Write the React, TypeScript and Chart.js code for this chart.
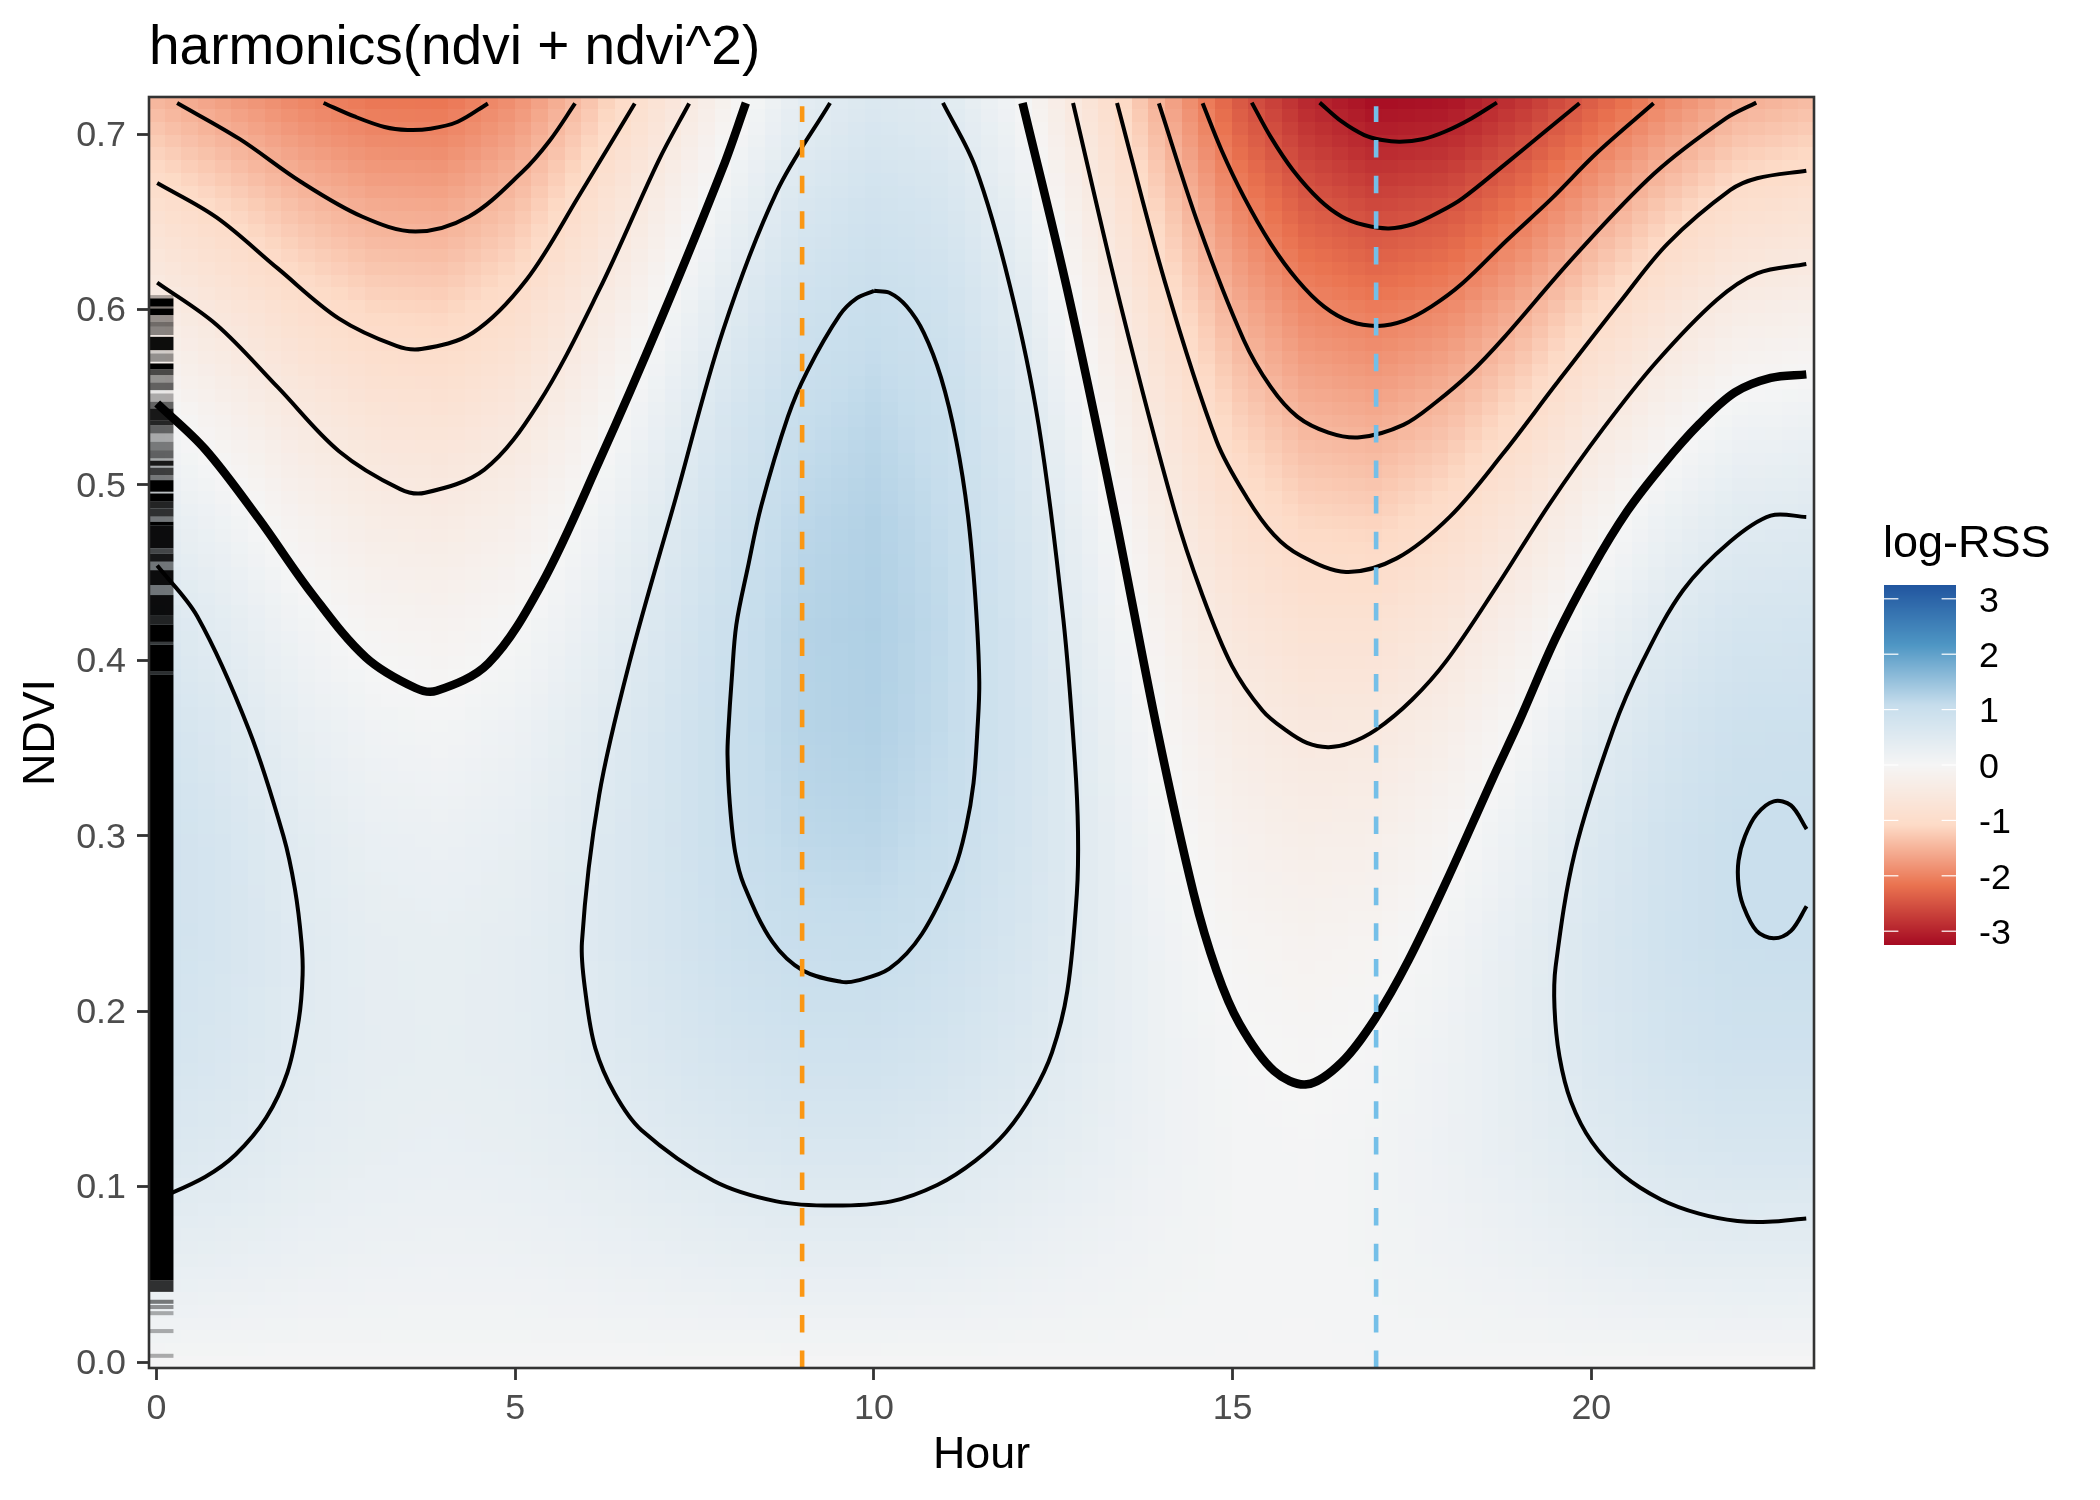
import { useEffect, useRef } from "react";
import { Chart, ScatterController, registerables } from "chart.js";

// ---------- values ----------
const HOURS = [0, 1, 2, 3, 4, 5, 6, 7, 8, 9, 10, 11, 12, 13, 14, 15, 16, 17, 18, 19, 20, 21, 22, 23];
const NDVI_ROWS = [0, 0.06, 0.12, 0.18, 0.24, 0.3, 0.36, 0.42, 0.48, 0.54, 0.6, 0.66, 0.72];

const RSS_H00 = [0.03, 0.35, 0.61, 0.78, 0.87, 0.88, 0.8, 0.63, 0.38, 0.04, -0.38, -0.89, -1.48];
const RSS_H01 = [0.03, 0.3, 0.52, 0.65, 0.71, 0.69, 0.58, 0.4, 0.13, -0.21, -0.64, -1.14, -1.73];
const RSS_H02 = [0.03, 0.23, 0.39, 0.48, 0.5, 0.44, 0.31, 0.11, -0.16, -0.5, -0.92, -1.41, -1.97];
const RSS_H03 = [0.03, 0.19, 0.31, 0.36, 0.35, 0.27, 0.13, -0.08, -0.36, -0.7, -1.11, -1.59, -2.13];
const RSS_H04 = [0.03, 0.17, 0.28, 0.33, 0.31, 0.22, 0.07, -0.14, -0.41, -0.75, -1.15, -1.62, -2.15];
const RSS_H05 = [0.03, 0.18, 0.31, 0.37, 0.37, 0.3, 0.18, -0.01, -0.26, -0.57, -0.94, -1.38, -1.87];
const RSS_H06 = [0.03, 0.22, 0.38, 0.48, 0.52, 0.5, 0.42, 0.27, 0.07, -0.2, -0.52, -0.91, -1.35];
const RSS_H07 = [0.03, 0.27, 0.48, 0.63, 0.72, 0.74, 0.71, 0.62, 0.46, 0.25, -0.02, -0.36, -0.75];
const RSS_H08 = [0.03, 0.32, 0.58, 0.78, 0.92, 1.0, 1.02, 0.98, 0.88, 0.72, 0.49, 0.21, -0.13];
const RSS_H09 = [0.03, 0.35, 0.64, 0.87, 1.04, 1.16, 1.22, 1.23, 1.17, 1.06, 0.89, 0.66, 0.38];
const RSS_H10 = [0.03, 0.35, 0.64, 0.88, 1.06, 1.19, 1.27, 1.29, 1.26, 1.17, 1.03, 0.84, 0.59];
const RSS_H11 = [0.03, 0.31, 0.56, 0.77, 0.93, 1.05, 1.11, 1.13, 1.09, 1.01, 0.88, 0.71, 0.48];
const RSS_H12 = [0.03, 0.24, 0.44, 0.6, 0.71, 0.78, 0.81, 0.79, 0.73, 0.63, 0.49, 0.3, 0.07];
const RSS_H13 = [0.03, 0.17, 0.31, 0.4, 0.44, 0.45, 0.41, 0.33, 0.21, 0.04, -0.16, -0.41, -0.7];
const RSS_H14 = [0.03, 0.1, 0.16, 0.18, 0.16, 0.09, -0.02, -0.17, -0.36, -0.6, -0.88, -1.2, -1.56];
const RSS_H15 = [0.03, 0.05, 0.06, 0.03, -0.06, -0.19, -0.37, -0.59, -0.86, -1.17, -1.53, -1.94, -2.39];
const RSS_H16 = [0.03, 0.04, 0.03, -0.03, -0.14, -0.31, -0.53, -0.8, -1.12, -1.5, -1.93, -2.41, -2.94];
const RSS_H17 = [0.03, 0.07, 0.08, 0.03, -0.09, -0.27, -0.5, -0.8, -1.17, -1.59, -2.07, -2.62, -3.23];
const RSS_H18 = [0.03, 0.13, 0.19, 0.17, 0.09, -0.07, -0.3, -0.6, -0.97, -1.41, -1.93, -2.51, -3.17];
const RSS_H19 = [0.03, 0.2, 0.33, 0.37, 0.34, 0.22, 0.02, -0.25, -0.61, -1.04, -1.56, -2.16, -2.83];
const RSS_H20 = [0.03, 0.29, 0.49, 0.61, 0.63, 0.56, 0.41, 0.16, -0.17, -0.59, -1.1, -1.71, -2.4];
const RSS_H21 = [0.03, 0.36, 0.62, 0.78, 0.85, 0.83, 0.71, 0.5, 0.2, -0.2, -0.7, -1.28, -1.97];
const RSS_H22 = [0.03, 0.39, 0.68, 0.88, 0.98, 0.99, 0.91, 0.73, 0.46, 0.09, -0.37, -0.93, -1.58];
const RSS_H23 = [0.03, 0.38, 0.68, 0.88, 0.99, 1.0, 0.93, 0.76, 0.51, 0.16, -0.28, -0.81, -1.43];
const LOG_RSS = [RSS_H00, RSS_H01, RSS_H02, RSS_H03, RSS_H04, RSS_H05, RSS_H06, RSS_H07, RSS_H08, RSS_H09, RSS_H10, RSS_H11,
  RSS_H12, RSS_H13, RSS_H14, RSS_H15, RSS_H16, RSS_H17, RSS_H18, RSS_H19, RSS_H20, RSS_H21, RSS_H22, RSS_H23];

// contour lines as [hour, ndvi]
const C_M2_A = [[2.33,.7177],[2.76,.71],[3.18,.704],[3.5,.7023],[3.82,.703],[4.2,.707],[4.62,.7174]];
const C_M15_A = [[.289,.7177],[1.158,.6972],[2.012,.6728],[2.865,.653],[3.611,.6444],[4.358,.653],[5.105,.6786],[5.478,.696],[5.835,.7174]];
const C_M1_A = [[.011,.6721],[.838,.6525],[1.691,.6234],[2.545,.5948],[3.345,.5792],[3.691,.5774],[4.411,.5867],[5.158,.6169],[5.905,.6658],[6.667,.7174]];
const C_M05_A = [[.011,.6153],[.838,.5913],[1.691,.5557],[2.545,.5192],[3.398,.4976],[3.745,.4955],[4.571,.5087],[5.318,.5459],[6.171,.6111],[7,.6849],[7.425,.7174]];
const C_0_A = [[.011,.5464],[.678,.5204],[1.425,.4808],[2.171,.4378],[2.918,.4017],[3.611,.3842],[3.905,.3826],[4.625,.3982],[5.371,.4436],[6.171,.5134],[7.025,.5936],[7.896,.6809],[8.216,.7177]];
const C_P05_A = [[.011,.454],[.571,.425],[1.291,.3603],[1.771,.2998],[1.931,.2696],[2.022,.2393],[2.038,.2207],[1.985,.1951],[1.825,.1649],[1.531,.1393],[1.105,.1183],[.678,.1055],[.011,.0927]];
const C_P05_B = [[9.389,.7177],[8.643,.6669],[7.896,.5878],[7.238,.4924],[6.598,.3994],[6.171,.3231],[5.931,.2393],[5.985,.2091],[6.118,.1788],[6.385,.1532],[6.758,.1323],[7.771,.1032],[8.643,.0916],[9.443,.0892],[10.243,.0916],[10.883,.1009],[11.416,.1148],[11.843,.1311],[12.216,.1532],[12.483,.1765],[12.696,.2114],[12.829,.2672],[12.845,.3021],[12.803,.3417],[12.643,.4226],[12.296,.5343],[11.896,.6134],[11.416,.6809],[10.963,.7177]];
const C_P1_A = [[10.003,.6106],[10.216,.6095],[10.456,.6018],[10.696,.5867],[10.936,.5611],[11.149,.525],[11.309,.4831],[11.416,.4343],[11.469,.3877],[11.443,.3603],[11.389,.3301],[11.283,.3045],[11.123,.2812],[10.669,.244],[10.216,.2242],[9.763,.2174],[9.549,.2167],[9.016,.223],[8.589,.2393],[8.189,.2719],[8.067,.2905],[7.992,.3184],[7.96,.3463],[7.972,.3603],[8.02,.39],[8.083,.4203],[8.243,.4529],[8.429,.4878],[8.803,.539],[9.069,.5646],[9.523,.5967],[9.763,.6064],[10.003,.6106]];
const C_0_B = [[12.072,.7177],[12.696,.6111],[13.336,.4878],[13.949,.3603],[14.456,.2672],[14.776,.223],[15.096,.1928],[15.576,.166],[16.035,.1583],[16.515,.1707],[16.995,.1963],[17.449,.2288],[17.982,.2742],[18.622,.3324],[19,.3658],[19.5,.4125],[20,.4516],[20.5,.485],[21,.5115],[21.5,.5345],[22,.5527],[22.5,.561],[22.996,.563]];
const C_M05_B = [[12.776,.7177],[13.443,.6018],[14.189,.4855],[14.563,.4389],[14.989,.397],[15.416,.3714],[15.736,.3603],[16.035,.3529],[16.329,.3505],[16.622,.3526],[16.995,.3603],[17.5,.3775],[17.982,.3998],[18.679,.442],[19.423,.4895],[20.166,.5322],[20.909,.5702],[21.746,.6054],[22.311,.6206],[22.996,.6259]];
const C_M1_B = [[13.389,.7177],[14.056,.6157],[14.776,.525],[15.203,.4924],[15.576,.4715],[15.939,.4599],[16.58,.4504],[17.286,.4581],[18.029,.4819],[18.772,.518],[19.516,.5579],[20.421,.6054],[21.067,.6377],[21.938,.6681],[22.311,.6748],[22.996,.6791]];
const C_M15_B = [[13.972,.7175],[14.532,.6472],[15.155,.5826],[15.528,.556],[15.902,.5389],[16.337,.5298],[16.773,.5271],[17.379,.5342],[17.843,.5474],[18.308,.5636],[18.772,.5835],[19.76,.6301],[20.88,.6776],[21.875,.7089],[22.298,.7179]];
const C_M2_B = [[14.582,.7175],[14.844,.6909],[15.155,.6643],[15.528,.6377],[15.902,.6168],[16.275,.6016],[16.648,.593],[17.022,.5906],[17.395,.5936],[17.768,.6016],[18.204,.6149],[18.826,.6396],[19.449,.6633],[20.071,.689],[20.867,.7175]];
const C_M25 = [[15.267,.7179],[15.528,.6985],[15.839,.6795],[16.213,.6624],[16.524,.6529],[16.835,.6481],[17.177,.6462],[17.519,.6487],[17.893,.6558],[18.204,.6633],[18.826,.6837],[19.324,.7004],[19.834,.7175]];
const C_M3 = [[16.213,.7179],[16.524,.707],[16.835,.6994],[17.084,.6966],[17.333,.6956],[17.644,.697],[17.955,.7013],[18.328,.7089],[18.683,.7179]];
const C_P05_C = [[22.995,.4817],[22.5,.4825],[21.931,.4676],[21.281,.4401],[20.724,.4002],[20.302,.3603],[19.769,.2905],[19.502,.2254],[19.486,.2021],[19.555,.1742],[19.715,.1486],[20.009,.1253],[20.435,.1067],[20.969,.0927],[21.502,.0846],[22.035,.0804],[22.462,.0799],[22.995,.0818]];
const C_P1_B = [[23,.3038],[22.782,.3173],[22.542,.3196],[22.302,.3121],[22.142,.2998],[22.051,.2858],[22.051,.2719],[22.115,.2603],[22.302,.2458],[22.542,.2416],[22.782,.2458],[23,.2598]];
const THIN_CONTOURS = [C_M2_A, C_M15_A, C_M1_A, C_M05_A, C_P05_A, C_P05_B, C_P1_A, C_M05_B, C_M1_B, C_M15_B, C_M2_B, C_M25, C_M3, C_P05_C, C_P1_B];
const BOLD_CONTOURS = [C_0_A, C_0_B];

// reference lines: hour, and the ndvi span of the dashes (bottom to top)
const MORNING_HOUR = 9;
const EVENING_HOUR = 17;
const VLINE_SPAN = [-0.0034, 0.7158];

// rug bands along hour 0: [upper ndvi, lower ndvi, darkness]
const RUG_BANDS = [
  [.6082,.6063,.3],[.6063,.6016,1],[.6016,.6006,.5],[.6006,.5968,1],[.5968,.593,.4],[.593,.5901,.55],[.5901,.5854,.45],
  [.5844,.5768,.95],[.5768,.5749,.15],[.5749,.5702,.4],[.5692,.566,1],[.566,.5626,.7],[.5626,.5584,.4],[.5584,.554,.6],
  [.554,.5521,.05],[.5521,.5474,.3],[.5474,.5436,.6],[.5436,.5369,.9],[.5369,.5341,.85],[.5341,.5293,.6],[.5293,.5246,.3],
  [.5246,.5198,.5],[.5198,.5151,.6],[.5151,.5138,.3],[.5138,.5109,.9],[.5109,.5098,.3],[.5098,.5056,.75],[.5056,.5027,.5],
  [.5027,.4961,1],[.4961,.4951,.2],[.4951,.4904,1],[.4904,.4866,.85],[.4866,.4819,.8],[.4819,.479,.5],[.479,.4767,1],
  [.4767,.4638,.95],[.4638,.4609,.7],[.4609,.4562,.9],[.4562,.4514,.5],[.4514,.4429,.95],[.4429,.4372,.5],[.4372,.4258,.95],
  [.4258,.4205,.85],[.4205,.4105,1],[.4105,.409,.75],[.409,.3935,1],[.3935,.392,.8],[.392,.0467,1],[.0467,.04,.8],
  [.0355,.0332,.5],[.0325,.0302,.4],[.029,.0267,.3],[.0188,.0165,.3],[.0047,.0024,.3],
];
const RUG_END_HOUR = 0.238;

const X_TICKS = [0, 5, 10, 15, 20];
const Y_TICKS = [0, 0.1, 0.2, 0.3, 0.4, 0.5, 0.6, 0.7];
const LEGEND_TICKS = [3, 2, 1, 0, -1, -2, -3];
const COLOR_VALUES = [-3.25, -2.167, -1.083, 0, 1.083, 2.167, 3.25];
const COLOR_STOPS = [[165,10,34],[234,115,80],[253,219,199],[245,245,245],[198,221,236],[78,150,196],[33,85,159]];

// ---------- helpers ----------
function rssColor(v: number) {
  const c = Math.max(COLOR_VALUES[0], Math.min(COLOR_VALUES[6], v));
  let i = 0;
  while (i < 5 && c > COLOR_VALUES[i + 1]) i++;
  const t = (c - COLOR_VALUES[i]) / (COLOR_VALUES[i + 1] - COLOR_VALUES[i]);
  const a = COLOR_STOPS[i], b = COLOR_STOPS[i + 1];
  return `rgb(${Math.round(a[0] + (b[0] - a[0]) * t)},${Math.round(a[1] + (b[1] - a[1]) * t)},${Math.round(a[2] + (b[2] - a[2]) * t)})`;
}

// The raster in the picture has about 100 x 100 tiles. The values are the read nodes above;
// each tile is shaded from the nodes around it, as a display step only.
const TILE_COLUMNS = 100;
const TILE_ROWS = 100;
const NDVI_TOP = 0.7177;

function shade(h: number, n: number) {
  const hi = Math.max(0, Math.min(HOURS.length - 2, Math.floor(h)));
  const step = NDVI_ROWS[1];
  const ni = Math.max(0, Math.min(NDVI_ROWS.length - 2, Math.floor(n / step)));
  const th = h - HOURS[hi];
  const tn = (n - NDVI_ROWS[ni]) / step;
  const a = LOG_RSS[hi][ni] * (1 - tn) + LOG_RSS[hi][ni + 1] * tn;
  const b = LOG_RSS[hi + 1][ni] * (1 - tn) + LOG_RSS[hi + 1][ni + 1] * tn;
  return a * (1 - th) + b * th;
}

class RssHeatController extends ScatterController {
  static id = "rssHeat";
  draw() {
    const { xScale, yScale } = this.getMeta();
    const ctx = this.chart.ctx;
    const dh = 23 / (TILE_COLUMNS - 1);
    const dn = NDVI_TOP / (TILE_ROWS - 1);
    const xEdges: number[] = [];
    const yEdges: number[] = [];
    for (let i = 0; i <= TILE_COLUMNS; i++) xEdges.push(Math.round(xScale.getPixelForValue((i - 0.5) * dh)));
    for (let j = 0; j <= TILE_ROWS; j++) yEdges.push(Math.round(yScale.getPixelForValue((j - 0.5) * dn)));
    ctx.save();
    for (let i = 0; i < TILE_COLUMNS; i++) {
      for (let j = 0; j < TILE_ROWS; j++) {
        ctx.fillStyle = rssColor(shade(i * dh, j * dn));
        ctx.fillRect(xEdges[i], yEdges[j + 1], xEdges[i + 1] - xEdges[i], yEdges[j] - yEdges[j + 1]);
      }
    }
    ctx.restore();
  }
}

class RugController extends ScatterController {
  static id = "rugBands";
  draw() {
    const { xScale, yScale } = this.getMeta();
    const ctx = this.chart.ctx;
    const x0 = xScale.left;
    const x1 = xScale.getPixelForValue(RUG_END_HOUR);
    ctx.save();
    for (const d of this.getDataset().data as any[]) {
      const y0 = yScale.getPixelForValue(d.y);
      const y1 = yScale.getPixelForValue(d.lower);
      ctx.fillStyle = `rgba(0,0,0,${d.dark})`;
      ctx.fillRect(x0, y0, x1 - x0, y1 - y0);
    }
    ctx.restore();
  }
}

Chart.register(...registerables, RssHeatController, RugController);

const FONT = "'Liberation Sans', Arial, sans-serif";

const panelAndLegend = {
  id: "panelAndLegend",
  afterDatasetsDraw(chart: any) {
    const { ctx, chartArea: a } = chart;
    ctx.save();
    ctx.strokeStyle = "#333333";
    ctx.lineWidth = 2.6;
    ctx.strokeRect(a.left, a.top, a.right - a.left, a.bottom - a.top);
    ctx.restore();
  },
  afterDraw(chart: any) {
    const { ctx } = chart;
    const left = 1884, right = 1956, top = 585, bottom = 945;
    const zeroY = 765, perUnit = 55.4;
    ctx.save();
    for (let y = top; y < bottom; y++) {
      ctx.fillStyle = rssColor((zeroY - (y + 0.5)) / perUnit);
      ctx.fillRect(left, y, right - left, 1);
    }
    ctx.textBaseline = "alphabetic";
    ctx.textAlign = "left";
    ctx.fillStyle = "#000000";
    ctx.font = `45px ${FONT}`;
    ctx.fillText("log-RSS", 1883, 557);
    ctx.font = `35.84px ${FONT}`;
    for (const v of LEGEND_TICKS) {
      const y = zeroY - v * perUnit;
      ctx.fillStyle = "#ffffff";
      ctx.fillRect(left, y - 0.6, 14.4, 1.2);
      ctx.fillRect(right - 14.4, y - 0.6, 14.4, 1.2);
      ctx.fillStyle = "#000000";
      ctx.fillText(String(v), 1979, y + 12.8);
    }
    ctx.restore();
  },
};

export default function App() {
  const ref = useRef<HTMLCanvasElement>(null);
  useEffect(() => {
    const toPoints = (pts: number[][]) => pts.map(([x, y]) => ({ x, y }));
    const contour = (pts: number[][], width: number) => ({
      type: "line",
      data: toPoints(pts),
      borderColor: "#000000",
      borderWidth: width,
      borderCapStyle: "butt",
      borderJoinStyle: "round",
      pointRadius: 0,
      tension: 0.34,
      fill: false,
      clip: 0,
      order: 5,
    });
    const vline = (hour: number, color: string) => ({
      type: "line",
      data: VLINE_SPAN.map((y) => ({ x: hour, y })),
      borderColor: color,
      borderWidth: 4.6,
      borderDash: [17.5, 18.1],
      borderCapStyle: "butt",
      pointRadius: 0,
      tension: 0,
      fill: false,
      clip: 0,
      order: 1,
    });
    const chart = new Chart(ref.current as HTMLCanvasElement, {
      type: "scatter",
      data: {
        datasets: [
          {
            type: "rssHeat",
            label: "log-RSS",
            data: HOURS.flatMap((h, i) => NDVI_ROWS.map((n, j) => ({ x: h, y: n, v: LOG_RSS[i][j] }))),
            pointRadius: 0,
            clip: 0,
            order: 10,
          },
          {
            type: "rugBands",
            label: "rug",
            data: RUG_BANDS.map(([y, lower, dark]) => ({ x: 0, y, lower, dark })),
            pointRadius: 0,
            clip: 0,
            order: 8,
          },
          ...THIN_CONTOURS.map((c) => contour(c, 4)),
          ...BOLD_CONTOURS.map((c) => contour(c, 8.5)),
          vline(MORNING_HOUR, "#FB9713"),
          vline(EVENING_HOUR, "#74BFE8"),
        ],
      } as any,
      options: {
        responsive: false,
        animation: false,
        devicePixelRatio: 1,
        events: [],
        layout: { padding: { left: 0, top: 0, right: 286, bottom: 0 } },
        plugins: {
          legend: { display: false },
          tooltip: { enabled: false },
          title: {
            display: true,
            text: "harmonics(ndvi + ndvi^2)",
            align: "start",
            fullSize: false,
            color: "#000000",
            font: { family: FONT, size: 55, weight: "normal", lineHeight: 1 },
            padding: { top: 21, bottom: 21 },
          },
        },
        scales: {
          x: {
            type: "linear",
            min: -0.103,
            max: 23.103,
            afterBuildTicks: (s: any) => { s.ticks = X_TICKS.map((value) => ({ value })); },
            afterFit: (s: any) => { s.height = 132; },
            grid: { drawOnChartArea: false, drawTicks: true, tickLength: 12, tickWidth: 2.8, tickColor: "#333333" },
            border: { display: false },
            ticks: {
              color: "#4D4D4D",
              padding: 11,
              maxRotation: 0,
              minRotation: 0,
              autoSkip: false,
              font: { family: FONT, size: 35.84, lineHeight: 1 },
              callback: (v: any) => String(v),
            },
            title: {
              display: true,
              text: "Hour",
              color: "#000000",
              font: { family: FONT, size: 44.8, lineHeight: 1 },
              padding: { top: 0, bottom: 21.6 },
            },
          },
          y: {
            type: "linear",
            min: -0.0034,
            max: 0.7211,
            afterBuildTicks: (s: any) => { s.ticks = Y_TICKS.map((value) => ({ value })); },
            afterFit: (s: any) => { s.width = 149; },
            grid: { drawOnChartArea: false, drawTicks: true, tickLength: 12, tickWidth: 2.8, tickColor: "#333333" },
            border: { display: false },
            ticks: {
              color: "#4D4D4D",
              padding: 11,
              labelOffset: 2,
              autoSkip: false,
              font: { family: FONT, size: 35.84, lineHeight: 1 },
              callback: (v: any) => Number(v).toFixed(1),
            },
            title: {
              display: true,
              text: "NDVI",
              color: "#000000",
              font: { family: FONT, size: 44.8, lineHeight: 1 },
              padding: { top: 19.5, bottom: 0 },
            },
          },
        },
      } as any,
      plugins: [panelAndLegend],
    });
    return () => chart.destroy();
  }, []);
  return (
    <canvas
      ref={ref}
      width={2100}
      height={1500}
      style={{ position: "absolute", left: 0, top: 0, width: 2100, height: 1500, display: "block" }}
    />
  );
}
